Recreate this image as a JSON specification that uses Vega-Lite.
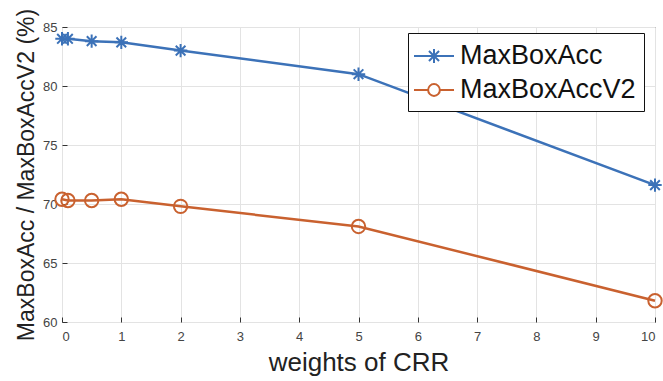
{
  "$schema": "https://vega.github.io/schema/vega-lite/v6.json",
  "width": 593,
  "height": 295,
  "autosize": "none",
  "padding": {"left": 62, "top": 27, "right": 8, "bottom": 59},
  "background": "white",
  "config": {
    "view": {"stroke": "#3a3a3a", "strokeWidth": 1},
    "font": "Liberation Sans",
    "axis": {
      "grid": true,
      "gridColor": "#e3e3e3",
      "gridWidth": 1,
      "domain": false,
      "tickColor": "#333333",
      "tickSize": -5,
      "labelFontSize": 13,
      "labelColor": "#444444",
      "titleFont": "Liberation Sans",
      "titleFontWeight": "normal",
      "titleColor": "#222222"
    }
  },
  "data": {
    "values": [
      {"w": 0, "series": "MaxBoxAcc", "acc": 84.0},
      {"w": 0.1, "series": "MaxBoxAcc", "acc": 84.0},
      {"w": 0.5, "series": "MaxBoxAcc", "acc": 83.8},
      {"w": 1, "series": "MaxBoxAcc", "acc": 83.7},
      {"w": 2, "series": "MaxBoxAcc", "acc": 83.0},
      {"w": 5, "series": "MaxBoxAcc", "acc": 81.0},
      {"w": 10, "series": "MaxBoxAcc", "acc": 71.6},
      {"w": 0, "series": "MaxBoxAccV2", "acc": 70.4},
      {"w": 0.1, "series": "MaxBoxAccV2", "acc": 70.3},
      {"w": 0.5, "series": "MaxBoxAccV2", "acc": 70.3},
      {"w": 1, "series": "MaxBoxAccV2", "acc": 70.4},
      {"w": 2, "series": "MaxBoxAccV2", "acc": 69.8},
      {"w": 5, "series": "MaxBoxAccV2", "acc": 68.1},
      {"w": 10, "series": "MaxBoxAccV2", "acc": 61.8}
    ]
  },
  "encoding": {
    "x": {
      "field": "w",
      "type": "quantitative",
      "scale": {"domain": [0, 10], "nice": false, "zero": false},
      "axis": {
        "title": "weights of CRR",
        "titleFontSize": 26,
        "titlePadding": 6,
        "values": [0, 1, 2, 3, 4, 5, 6, 7, 8, 9, 10],
        "labelPadding": 13
      }
    },
    "y": {
      "field": "acc",
      "type": "quantitative",
      "scale": {"domain": [60, 85], "nice": false, "zero": false},
      "axis": {
        "title": "MaxBoxAcc / MaxBoxAccV2 (%)",
        "titleFontSize": 23,
        "titlePadding": 4,
        "values": [60, 65, 70, 75, 80, 85],
        "labelPadding": 10
      }
    },
    "color": {
      "field": "series",
      "type": "nominal",
      "scale": {"domain": ["MaxBoxAcc", "MaxBoxAccV2"], "range": ["#3C72B8", "#C9612F"]},
      "legend": {
        "title": null,
        "orient": "none",
        "legendX": 346,
        "legendY": 6,
        "padding": 8,
        "strokeColor": "#111111",
        "fillColor": "white",
        "labelFont": "Liberation Sans",
        "labelFontSize": 27,
        "labelColor": "#111111",
        "labelLimit": 400,
        "symbolSize": 784,
        "symbolOffset": 3,
        "labelOffset": 11,
        "rowPadding": 6,
        "symbolStrokeWidth": 2,
        "encode": {
          "symbols": {
            "update": {
              "shape": {"signal": "datum.value === 'MaxBoxAcc' ? 'M-1.43,0L1.43,0M0,-0.5L0,0.5M-0.5,0L0.5,0M-0.36,-0.36L0.36,0.36M-0.36,0.36L0.36,-0.36' : 'M-1.43,0L-0.42,0M0.42,0L1.43,0M0.42,0A0.42,0.42,0,1,1,-0.42,0A0.42,0.42,0,1,1,0.42,0'"},
              "fill": {"value": "transparent"},
              "strokeWidth": {"value": 2}
            }
          }
        }
      }
    }
  },
  "layer": [
    {
      "mark": {"type": "line", "strokeWidth": 2.5}
    },
    {
      "transform": [{"filter": "datum.series === 'MaxBoxAcc'"}],
      "mark": {"type": "point", "filled": false, "strokeWidth": 2, "opacity": 1, "size": 180,
               "shape": "M-1,0L1,0M0,-1L0,1M-0.72,-0.72L0.72,0.72M-0.72,0.72L0.72,-0.72"}
    },
    {
      "transform": [{"filter": "datum.series === 'MaxBoxAccV2'"}],
      "mark": {"type": "point", "filled": false, "strokeWidth": 2, "opacity": 1, "size": 180, "shape": "circle"}
    }
  ]
}
